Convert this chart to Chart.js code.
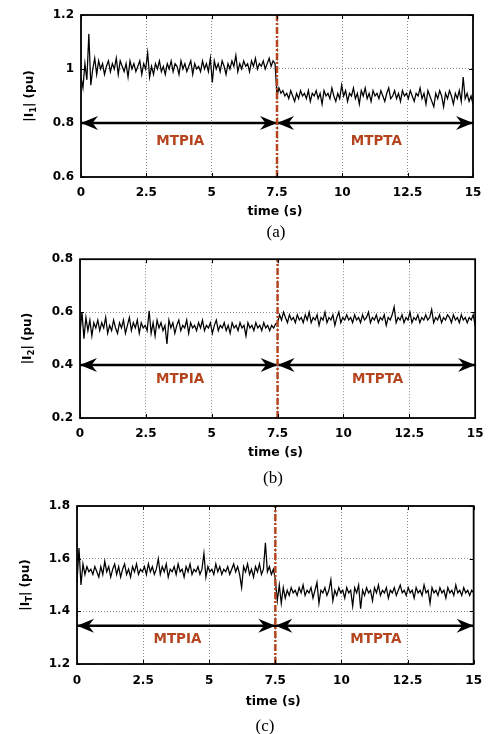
<!DOCTYPE html>
<html>
<head>
<meta charset="utf-8">
<script src="https://cdn.jsdelivr.net/npm/chart.js@4.4.1/dist/chart.umd.min.js"></script>
<style>
  html, body { margin: 0; padding: 0; background: #fff; }
  body { width: 492px; height: 734px; position: relative; overflow: hidden; }
  canvas { position: absolute; left: 0; }
</style>
</head>
<body>
<canvas id="chartA" width="492" height="245" style="top:0px"></canvas>
<canvas id="chartB" width="492" height="245" style="top:245px"></canvas>
<canvas id="chartC" width="492" height="244" style="top:490px"></canvas>
<script>
// sampling of the traces (s) and time axis ticks
const timeStep = 0.075;
const timeTicks = [0, 2.5, 5, 7.5, 10, 12.5, 15];
const switchTime = 7.5;

// |I1| (pu)
const i1Values = [
  0.97, 0.93, 1.02, 0.96, 1.13, 0.94, 1.00, 1.04, 0.98, 1.03, 1.00, 1.02, 0.98, 1.01, 1.03, 0.99, 1.02, 1.00, 1.04, 0.98,
  1.03, 1.01, 0.99, 1.02, 0.97, 1.03, 1.00, 1.02, 0.99, 1.01, 1.03, 0.98, 1.02, 1.00, 1.06, 0.97, 1.01, 0.98, 1.02, 1.00,
  1.03, 0.99, 1.01, 0.98, 1.02, 1.00, 1.03, 0.99, 1.02, 1.01, 0.98, 1.03, 1.00, 1.02, 0.99, 1.01, 1.03, 0.98, 1.02, 1.00,
  1.01, 0.99, 1.03, 1.00, 1.02, 0.99, 1.04, 0.95, 1.03, 1.00, 1.02, 0.99, 1.03, 1.01, 0.98, 1.02, 1.00, 1.03, 1.01, 1.05,
  0.99, 1.02, 1.00, 1.03, 1.01, 1.02, 0.99, 1.03, 1.01, 1.04, 1.00, 1.02, 1.01, 1.03, 1.00, 1.02, 1.04, 1.01, 1.03, 1.02,
  0.90, 0.93, 0.91, 0.92, 0.90, 0.91, 0.89, 0.92, 0.90, 0.88, 0.91, 0.89, 0.92, 0.90, 0.91, 0.89, 0.92, 0.88, 0.91, 0.90,
  0.92, 0.89, 0.91, 0.87, 0.92, 0.90, 0.91, 0.89, 0.93, 0.90, 0.88, 0.91, 0.89, 0.94, 0.90, 0.92, 0.88, 0.91, 0.90, 0.93,
  0.89, 0.91, 0.87, 0.92, 0.90, 0.93, 0.89, 0.91, 0.88, 0.92, 0.90, 0.91, 0.89, 0.92, 0.90, 0.88, 0.91, 0.93, 0.89, 0.90,
  0.92, 0.89, 0.91, 0.88, 0.92, 0.90, 0.91, 0.89, 0.92, 0.90, 0.88, 0.91, 0.90, 0.93, 0.89, 0.91, 0.87, 0.92, 0.90, 0.88,
  0.86, 0.91, 0.89, 0.92, 0.90, 0.86, 0.91, 0.89, 0.92, 0.90, 0.87, 0.91, 0.89, 0.92, 0.88, 0.97, 0.89, 0.91, 0.88, 0.90,
  0.87
];

// |I2| (pu), panel (b)
const i2Values = [
  0.52, 0.60, 0.50, 0.58, 0.53, 0.57, 0.51, 0.56, 0.54, 0.57, 0.53, 0.56, 0.54, 0.58, 0.52, 0.55, 0.53, 0.57, 0.54, 0.52,
  0.56, 0.54, 0.57, 0.52, 0.55, 0.58, 0.53, 0.56, 0.54, 0.57, 0.52, 0.56, 0.54, 0.55, 0.53, 0.605, 0.52, 0.56, 0.51, 0.57,
  0.54, 0.56, 0.53, 0.55, 0.48, 0.57, 0.54, 0.56, 0.52, 0.55, 0.57, 0.53, 0.55, 0.54, 0.57, 0.52, 0.56, 0.54, 0.55, 0.53,
  0.56, 0.54, 0.57, 0.53, 0.55, 0.54, 0.56, 0.52, 0.55, 0.57, 0.53, 0.55, 0.54, 0.56, 0.53, 0.55, 0.52, 0.56, 0.54, 0.55,
  0.53, 0.56, 0.54, 0.55, 0.51, 0.56, 0.54, 0.55, 0.53, 0.56, 0.54, 0.55, 0.53, 0.56, 0.54, 0.55, 0.53, 0.55, 0.54, 0.555,
  0.56, 0.59, 0.57, 0.60, 0.58, 0.56, 0.59, 0.57, 0.58, 0.56, 0.59, 0.57, 0.58, 0.56, 0.59, 0.57, 0.60, 0.56, 0.58, 0.57,
  0.59, 0.55, 0.58, 0.57, 0.60, 0.56, 0.58, 0.57, 0.59, 0.55, 0.58, 0.60, 0.56, 0.58, 0.57, 0.59, 0.57, 0.58, 0.56, 0.59,
  0.57, 0.58, 0.56, 0.59, 0.57, 0.58, 0.60, 0.56, 0.58, 0.57, 0.59, 0.56, 0.58, 0.57, 0.59, 0.55, 0.58, 0.57, 0.59, 0.62,
  0.56, 0.58, 0.57, 0.59, 0.56, 0.58, 0.57, 0.60, 0.56, 0.58, 0.57, 0.59, 0.56, 0.58, 0.57, 0.59, 0.57, 0.58, 0.61, 0.56,
  0.58, 0.57, 0.59, 0.56, 0.58, 0.57, 0.59, 0.58, 0.56, 0.59, 0.57, 0.58, 0.56, 0.59, 0.57, 0.58, 0.56, 0.58, 0.57, 0.59,
  0.55
];

// |IT| (pu), panel (c)
const iTValues = [
  1.51, 1.64, 1.50, 1.58, 1.54, 1.57, 1.55, 1.56, 1.54, 1.57, 1.55, 1.53, 1.57, 1.54, 1.59, 1.55, 1.57, 1.53, 1.56, 1.58,
  1.54, 1.57, 1.53, 1.56, 1.58, 1.54, 1.56, 1.53, 1.57, 1.55, 1.58, 1.54, 1.56, 1.55, 1.57, 1.54, 1.58, 1.55, 1.57, 1.54,
  1.56, 1.60, 1.54, 1.57, 1.55, 1.58, 1.53, 1.56, 1.55, 1.57, 1.54, 1.58, 1.55, 1.56, 1.53, 1.57, 1.55, 1.58, 1.54, 1.56,
  1.55, 1.57, 1.54, 1.56, 1.62, 1.53, 1.57, 1.55, 1.56, 1.54, 1.58, 1.55, 1.57, 1.54, 1.56, 1.55, 1.57, 1.54, 1.56, 1.58,
  1.55, 1.57, 1.54, 1.49, 1.57, 1.55, 1.58, 1.54, 1.56, 1.53, 1.57, 1.55, 1.58, 1.54, 1.56, 1.66, 1.55, 1.57, 1.54, 1.56,
  1.52, 1.44, 1.50, 1.43, 1.49, 1.45, 1.48, 1.46, 1.49, 1.47, 1.48, 1.46, 1.49, 1.47, 1.50, 1.46, 1.48, 1.47, 1.49, 1.45,
  1.48, 1.51, 1.43, 1.48, 1.47, 1.49, 1.46, 1.48, 1.52, 1.44, 1.48, 1.46, 1.49, 1.47, 1.48, 1.45, 1.49, 1.47, 1.48, 1.42,
  1.49, 1.47, 1.50, 1.41, 1.48, 1.46, 1.49, 1.47, 1.48, 1.44, 1.49, 1.47, 1.50, 1.46, 1.48, 1.47, 1.49, 1.45, 1.48, 1.47,
  1.49, 1.46, 1.48, 1.50, 1.47, 1.48, 1.46, 1.49, 1.47, 1.48, 1.45, 1.49, 1.47, 1.48, 1.46, 1.50, 1.47, 1.48, 1.43, 1.49,
  1.47, 1.48, 1.46, 1.49, 1.47, 1.48, 1.45, 1.49, 1.47, 1.48, 1.46, 1.50, 1.47, 1.48, 1.46, 1.49, 1.47, 1.48, 1.46, 1.48,
  1.47
];

// y axis ticks of each panel
const i1Ticks = [0.6, 0.8, 1.0, 1.2];
const i2Ticks = [0.2, 0.4, 0.6, 0.8];
const iTTicks = [1.2, 1.4, 1.6, 1.8];

// double arrows and mode labels
const arrowLevels = [0.8, 0.4, 1.345];
const modeLabels = ['MTPIA', 'MTPTA'];
const modeLabelTimes = [3.8, 11.3];
const modeLabelLevels = [0.733, 0.347, 1.293];

const ACCENT = '#b4451f';
const FONT = '"DejaVu Sans", "Liberation Sans", Arial, sans-serif';

Chart.defaults.font.family = FONT;
Chart.defaults.font.size = 12;
Chart.defaults.font.weight = 'bold';
Chart.defaults.color = '#000';

function arrowHead(ctx, x, y, dir) {
  const len = 17, half = 7, notch = 5.5;
  ctx.beginPath();
  ctx.moveTo(x, y);
  ctx.lineTo(x - dir * len, y - half);
  ctx.lineTo(x - dir * (len - notch), y);
  ctx.lineTo(x - dir * len, y + half);
  ctx.closePath();
  ctx.fill();
}

const decor = {
  id: 'decor',
  beforeDatasetsDraw(chart, args, opts) {
    const { x, y } = chart.scales;
    const ctx = chart.ctx;
    const yp = y.getPixelForValue(opts.arrowLevel);
    ctx.save();
    ctx.fillStyle = '#000';
    arrowHead(ctx, x.getPixelForValue(timeTicks[0]), yp, -1);
    arrowHead(ctx, x.getPixelForValue(switchTime), yp, 1);
    arrowHead(ctx, x.getPixelForValue(switchTime), yp, -1);
    arrowHead(ctx, x.getPixelForValue(timeTicks[timeTicks.length - 1]), yp, 1);
    ctx.restore();
  },
  afterDatasetsDraw(chart, args, opts) {
    const { x, y } = chart.scales;
    const ctx = chart.ctx;
    ctx.save();
    ctx.fillStyle = ACCENT;
    ctx.font = 'bold 13.5px ' + FONT;
    ctx.textAlign = 'center';
    ctx.textBaseline = 'middle';
    modeLabels.forEach((txt, k) => {
      ctx.fillText(txt, x.getPixelForValue(modeLabelTimes[k]), y.getPixelForValue(opts.labelLevel));
    });
    ctx.restore();
  },
  afterDraw(chart, args, opts) {
    const { x, y } = chart.scales;
    const a = chart.chartArea;
    const ctx = chart.ctx;
    ctx.save();
    // box
    ctx.strokeStyle = '#000';
    ctx.lineWidth = 1.8;
    ctx.strokeRect(a.left, a.top, a.right - a.left, a.bottom - a.top);
    // inner ticks on all four sides
    ctx.lineWidth = 1;
    ctx.beginPath();
    x.ticks.forEach(t => {
      const px = Math.round(x.getPixelForValue(t.value)) + 0.5;
      ctx.moveTo(px, a.bottom); ctx.lineTo(px, a.bottom - 4);
      ctx.moveTo(px, a.top); ctx.lineTo(px, a.top + 4);
    });
    y.ticks.forEach(t => {
      const py = Math.round(y.getPixelForValue(t.value)) + 0.5;
      ctx.moveTo(a.left, py); ctx.lineTo(a.left + 4, py);
      ctx.moveTo(a.right, py); ctx.lineTo(a.right - 4, py);
    });
    ctx.stroke();

    // y title with subscript
    ctx.fillStyle = '#000';
    ctx.translate(opts.yTitleX, (a.top + a.bottom) / 2);
    ctx.rotate(-Math.PI / 2);
    const parts = [
      { t: '|I', f: 12, dy: 0 },
      { t: opts.sub, f: 8.5, dy: 3 },
      { t: '| (pu)', f: 12, dy: 0 }
    ];
    let total = 0;
    parts.forEach(p => { ctx.font = 'bold ' + p.f + 'px ' + FONT; p.w = ctx.measureText(p.t).width; total += p.w; });
    let cx = -total / 2;
    ctx.textBaseline = 'alphabetic';
    parts.forEach(p => {
      ctx.font = 'bold ' + p.f + 'px ' + FONT;
      ctx.fillText(p.t, cx, 4.5 + p.dy);
      cx += p.w;
    });
    ctx.setTransform(1, 0, 0, 1, 0, 0);

    // x title and panel letter
    ctx.textAlign = 'center';
    ctx.textBaseline = 'middle';
    ctx.font = 'bold 12.5px ' + FONT;
    ctx.fillText('time (s)', (a.left + a.right) / 2 - 2, a.bottom + opts.titleOffset);
    ctx.font = '17px "Liberation Serif", "Times New Roman", serif';
    ctx.fillText(opts.letter, opts.letterX, a.bottom + opts.letterOffset);
    ctx.restore();
  }
};

function makePanel(id, canvasTop, canvasHeight, area, values, yTicks, k, extra) {
  const yMin = yTicks[0];
  const yMax = yTicks[yTicks.length - 1];
  const trace = values.map((v, i) => ({ x: i * timeStep, y: v }));
  const arrowLine = [
    { x: timeTicks[0], y: arrowLevels[k] },
    { x: timeTicks[timeTicks.length - 1], y: arrowLevels[k] }
  ];
  const switchLine = [{ x: switchTime, y: yMin }, { x: switchTime, y: yMax }];

  return new Chart(document.getElementById(id), {
    type: 'line',
    data: {
      datasets: [
        { data: switchLine, borderColor: ACCENT, borderWidth: 2.5, borderDash: [7, 2, 2, 2], pointRadius: 0, order: 0 },
        { data: arrowLine, borderColor: '#000', borderWidth: 2.5, pointRadius: 0, order: 1 },
        { data: trace, borderColor: '#000', borderWidth: 1.25, pointRadius: 0, tension: 0, order: 2 }
      ]
    },
    options: {
      responsive: false,
      animation: false,
      devicePixelRatio: 1,
      layout: { padding: { top: area.top - canvasTop, right: 492 - area.right, left: 0, bottom: 0 } },
      plugins: {
        legend: { display: false },
        tooltip: { enabled: false },
        decor: Object.assign({ arrowLevel: arrowLevels[k], labelLevel: modeLabelLevels[k] }, extra)
      },
      scales: {
        x: {
          type: 'linear',
          min: timeTicks[0],
          max: timeTicks[timeTicks.length - 1],
          afterBuildTicks: s => { s.ticks = timeTicks.map(v => ({ value: v })); },
          afterFit: s => { s.height = canvasHeight - (area.bottom - canvasTop); },
          ticks: { padding: extra.xPad, maxRotation: 0, callback: v => String(v) },
          grid: { color: '#8c8c8c', lineWidth: 1, drawTicks: false },
          border: { display: false, dash: [1, 2] }
        },
        y: {
          min: yMin,
          max: yMax,
          afterBuildTicks: s => { s.ticks = yTicks.map(v => ({ value: v })); },
          afterFit: s => { s.width = area.left; },
          ticks: { padding: 7, callback: v => String(Number(v.toFixed(2))) },
          grid: { color: '#8c8c8c', lineWidth: 1, drawTicks: false },
          border: { display: false, dash: [1, 2] }
        }
      }
    },
    plugins: [decor]
  });
}

makePanel('chartA', 0, 245, { left: 81, right: 473, top: 15, bottom: 177 }, i1Values, i1Ticks, 0,
  { sub: '1', yTitleX: 28, letter: '(a)', letterX: 276, titleOffset: 35, letterOffset: 56, xPad: 9 });
makePanel('chartB', 245, 245, { left: 80, right: 476, top: 259, bottom: 418 }, i2Values, i2Ticks, 1,
  { sub: '2', yTitleX: 26, letter: '(b)', letterX: 273, titleOffset: 35, letterOffset: 61, xPad: 8.5 });
makePanel('chartC', 490, 244, { left: 77, right: 482, top: 506, bottom: 664 }, iTValues, iTTicks, 2,
  { sub: 'T', yTitleX: 24, letter: '(c)', letterX: 265, titleOffset: 38, letterOffset: 63, xPad: 10 });
</script>
</body>
</html>
